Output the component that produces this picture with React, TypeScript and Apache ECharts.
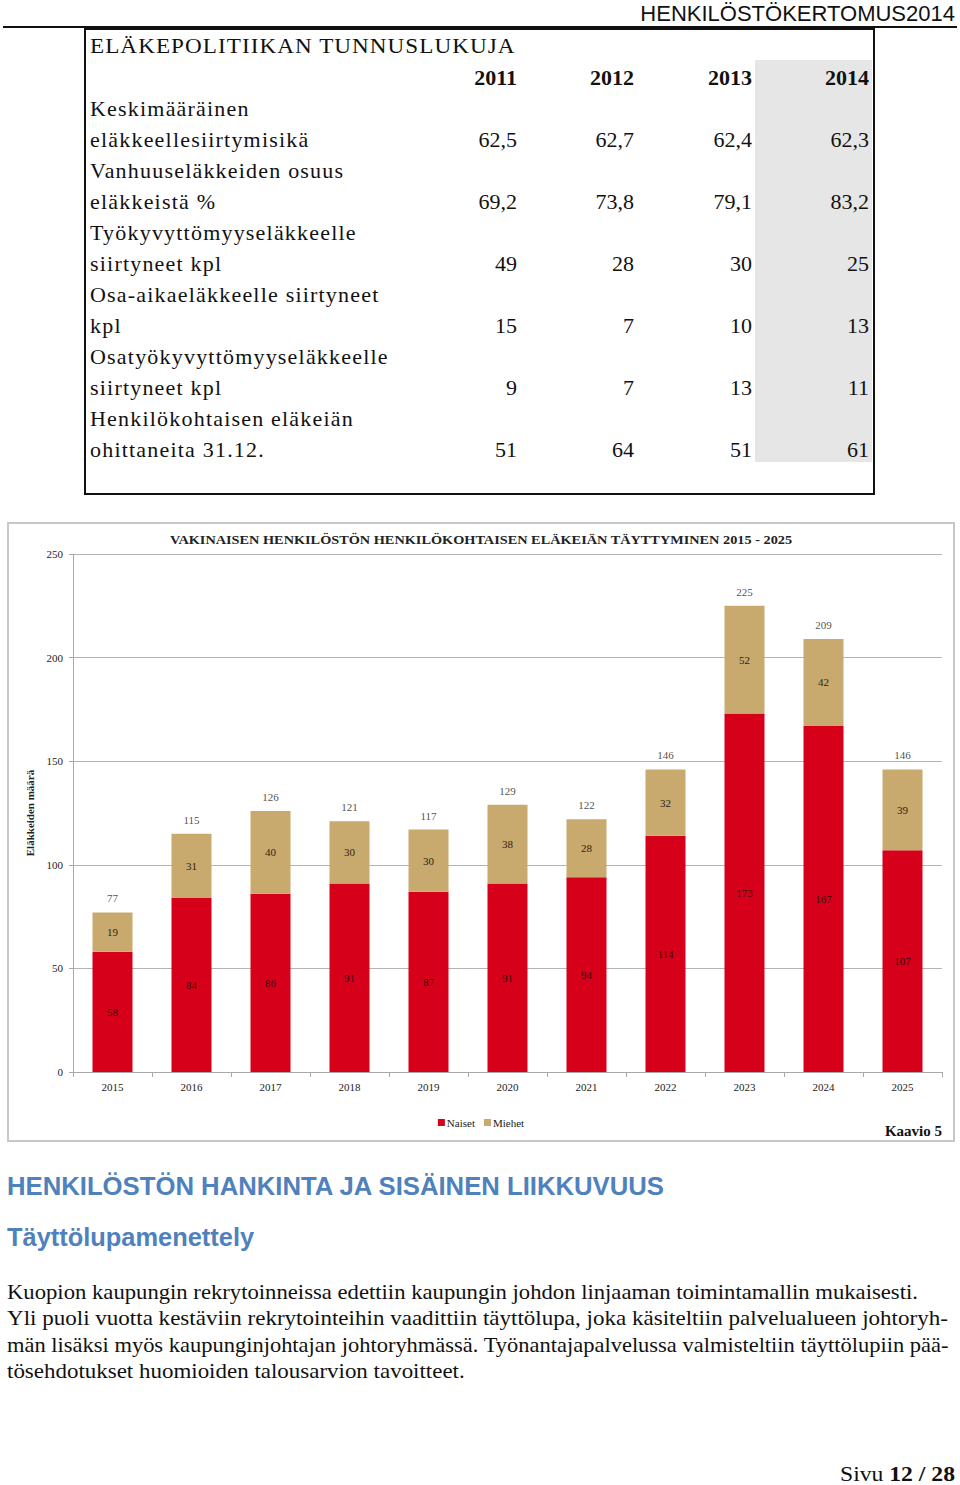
import React, { useEffect, useLayoutEffect, useRef, useState } from "react";
import * as echarts from "echarts";

// ---------- Chart data ----------
const categories = ["2015", "2016", "2017", "2018", "2019", "2020", "2021", "2022", "2023", "2024", "2025"];
const naiset = [58, 84, 86, 91, 87, 91, 94, 114, 173, 167, 107];
const miehet = [19, 31, 40, 30, 30, 38, 28, 32, 52, 42, 39];
const yTicks = [0, 50, 100, 150, 200, 250];

// ---------- Table data ----------
const tableYears = ["2011", "2012", "2013", "2014"];
const rowLabels = [
  ["Keskimääräinen", "eläkkeellesiirtymisikä"],
  ["Vanhuuseläkkeiden osuus", "eläkkeistä %"],
  ["Työkyvyttömyyseläkkeelle", "siirtyneet kpl"],
  ["Osa-aikaeläkkeelle siirtyneet", "kpl"],
  ["Osatyökyvyttömyyseläkkeelle", "siirtyneet kpl"],
  ["Henkilökohtaisen eläkeiän", "ohittaneita 31.12."],
];
const values2011 = ["62,5", "69,2", "49", "15", "9", "51"];
const values2012 = ["62,7", "73,8", "28", "7", "7", "64"];
const values2013 = ["62,4", "79,1", "30", "10", "13", "51"];
const values2014 = ["62,3", "83,2", "25", "13", "11", "61"];
const tableValues = [values2011, values2012, values2013, values2014];

// ---------- Text ----------
const headerText = "HENKILÖSTÖKERTOMUS2014";
const tableTitle = "ELÄKEPOLITIIKAN TUNNUSLUKUJA";
const chartTitle = "VAKINAISEN HENKILÖSTÖN HENKILÖKOHTAISEN ELÄKEIÄN TÄYTTYMINEN 2015 - 2025";
const heading1 = "HENKILÖSTÖN HANKINTA JA SISÄINEN LIIKKUVUUS";
const heading2 = "Täyttölupamenettely";
const paragraphLines = [
  "Kuopion kaupungin rekrytoinneissa edettiin kaupungin johdon linjaaman toimintamallin mukaisesti.",
  "Yli puoli vuotta kestäviin rekrytointeihin vaadittiin täyttölupa, joka käsiteltiin palvelualueen johtoryh-",
  "män lisäksi myös kaupunginjohtajan johtoryhmässä. Työnantajapalvelussa valmisteltiin täyttölupiin pää-",
  "tösehdotukset huomioiden talousarvion tavoitteet.",
];

const SERIF = "'Liberation Serif', 'DejaVu Serif', serif";
const SANS = "'Liberation Sans Narrow', 'Liberation Sans', Arial, sans-serif";
const RED = "#d7001b";
const TAN = "#c8aa6f";

function FitText(props: {
  x: number;
  y: number;
  width: number;
  anchor?: "left" | "right";
  style?: React.CSSProperties;
  children: React.ReactNode;
}) {
  const ref = useRef<HTMLSpanElement>(null);
  const [sx, setSx] = useState(1);
  useLayoutEffect(() => {
    const measure = () => {
      if (!ref.current) return;
      const natural = ref.current.scrollWidth;
      if (natural > 0) setSx(props.width / natural);
    };
    measure();
    if ((document as any).fonts && (document as any).fonts.ready) {
      (document as any).fonts.ready.then(measure);
    }
    // eslint-disable-next-line react-hooks/exhaustive-deps
  }, []);
  const anchor = props.anchor || "left";
  const pos: React.CSSProperties =
    anchor === "left" ? { left: props.x } : { right: 960 - props.x };
  return (
    <span
      ref={ref}
      style={{
        position: "absolute",
        top: props.y,
        whiteSpace: "nowrap",
        display: "inline-block",
        transformOrigin: anchor + " center",
        transform: `scaleX(${sx})`,
        ...pos,
        ...props.style,
      }}
    >
      {props.children}
    </span>
  );
}

function Chart() {
  const ref = useRef<HTMLDivElement>(null);
  useEffect(() => {
    if (!ref.current) return;
    const chart = echarts.init(ref.current, undefined, { renderer: "svg" });
    const totals = naiset.map((v, i) => v + miehet[i]);
    const labelFont = { fontFamily: SERIF, fontSize: 11, color: "#2b1a1a" };
    chart.setOption({
      animation: false,
      textStyle: { fontFamily: SERIF },
      grid: { left: 66, right: 13, top: 32, bottom: 70 },
      legend: {
        data: ["Naiset", "Miehet"],
        left: "center",
        top: 590,
        icon: "rect",
        itemWidth: 7,
        itemHeight: 7,
        itemGap: 9,
        textStyle: { fontFamily: SERIF, fontSize: 11, color: "#222", padding: [0, 0, 0, -3] },
      },
      xAxis: {
        type: "category",
        data: categories,
        axisLine: { lineStyle: { color: "#a8a8a8", width: 1 } },
        axisTick: { show: true, alignWithLabel: false, length: 5, lineStyle: { color: "#a8a8a8" } },
        axisLabel: { fontFamily: SERIF, fontSize: 11, color: "#222", margin: 9 },
      },
      yAxis: {
        type: "value",
        min: yTicks[0],
        max: yTicks[yTicks.length - 1],
        interval: yTicks[1] - yTicks[0],
        name: "Eläkkeiden määrä",
        nameLocation: "middle",
        nameGap: 35,
        nameTextStyle: { fontFamily: SERIF, fontSize: 11, fontWeight: "bold", color: "#222" },
        axisLine: { show: true, lineStyle: { color: "#a8a8a8", width: 1 } },
        axisTick: { show: true, length: 4, lineStyle: { color: "#a8a8a8" } },
        axisLabel: { fontFamily: SERIF, fontSize: 11, color: "#222", margin: 10 },
        splitLine: { show: true, lineStyle: { color: "#b4b4b4", width: 1 } },
      },
      series: [
        {
          name: "Naiset",
          type: "bar",
          stack: "total",
          barWidth: 40,
          data: naiset,
          itemStyle: { color: RED },
          label: { show: true, position: "inside", ...labelFont, color: "#3a0b0b" },
        },
        {
          name: "Miehet",
          type: "bar",
          stack: "total",
          barWidth: 40,
          data: miehet,
          itemStyle: { color: TAN },
          label: { show: true, position: "inside", ...labelFont, color: "#2a1f12" },
        },
        {
          name: "Yhteensä",
          type: "scatter",
          data: totals,
          symbolSize: 1,
          itemStyle: { color: "rgba(0,0,0,0)" },
          label: { show: true, position: "top", distance: 8, ...labelFont, color: "#222" },
          silent: true,
        },
      ],
      graphic: [
        {
          type: "text",
          x: 474,
          y: 18,
          scaleX: 1.1,
          style: {
            text: chartTitle,
            font: `bold 13px ${SERIF}`,
            fill: "#222",
            textAlign: "center",
            textVerticalAlign: "middle",
          },
        },
        {
          type: "text",
          right: 13,
          top: 601,
          style: { text: "Kaavio 5", font: `bold 15px ${SERIF}`, fill: "#111" },
        },
      ],
    });
    return () => chart.dispose();
  }, []);
  return (
    <>
      <div
        ref={ref}
        style={{ position: "absolute", left: 7, top: 522, width: 948, height: 620 }}
      />
      <div
        style={{
          position: "absolute",
          left: 7,
          top: 522,
          width: 948,
          height: 620,
          border: "2px solid #c8c8c8",
          boxSizing: "border-box",
          pointerEvents: "none",
        }}
      />
    </>
  );
}

function Table() {
  const colRight = [517, 634, 752, 869];
  const lineH = 31;
  const cell = (cy: number): React.CSSProperties => ({
    position: "absolute",
    top: cy - lineH / 2,
    height: lineH,
    lineHeight: lineH + "px",
    whiteSpace: "nowrap",
  });
  const labelStyle: React.CSSProperties = {
    fontFamily: SERIF,
    fontSize: 22,
    letterSpacing: 1.2,
    color: "#111",
  };
  const numStyle: React.CSSProperties = {
    fontFamily: SERIF,
    fontSize: 22,
    color: "#111",
  };
  const els: React.ReactNode[] = [];
  rowLabels.forEach((lines, r) => {
    const cy1 = 108 + r * 62;
    const cy2 = cy1 + 31;
    els.push(
      <div key={"a" + r} style={{ ...cell(cy1), left: 90, ...labelStyle }}>{lines[0]}</div>
    );
    els.push(
      <div key={"b" + r} style={{ ...cell(cy2), left: 90, ...labelStyle }}>{lines[1]}</div>
    );
    tableValues.forEach((col, c) => {
      els.push(
        <div key={"v" + r + "-" + c} style={{ ...cell(cy2), right: 960 - colRight[c], ...numStyle }}>
          {col[r]}
        </div>
      );
    });
  });
  return (
    <>
      <div style={{ position: "absolute", left: 755, top: 60, width: 117, height: 402, background: "#e6e6e6" }} />
      <div
        style={{
          position: "absolute",
          left: 84,
          top: 28,
          width: 791,
          height: 467,
          border: "2px solid #111",
          boxSizing: "border-box",
        }}
      />
      <FitText x={90} y={46 - 15} width={426} style={{ fontFamily: SERIF, fontSize: 22, lineHeight: "30px", letterSpacing: 1, color: "#111" }}>
        {tableTitle}
      </FitText>
      {tableYears.map((y, c) => (
        <div key={y} style={{ ...cell(77), right: 960 - colRight[c], ...numStyle, fontWeight: "bold" }}>{y}</div>
      ))}
      {els}
    </>
  );
}

export default function App() {
  return (
    <div
      style={{
        position: "absolute",
        left: 0,
        top: 0,
        width: 960,
        height: 1485,
        background: "#fff",
        overflow: "hidden",
      }}
    >
      <FitText x={955} y={1} width={315} anchor="right" style={{ fontFamily: SANS, fontSize: 22, lineHeight: "26px", color: "#111" }}>
        {headerText}
      </FitText>
      <div style={{ position: "absolute", left: 3, top: 26, width: 954, height: 2, background: "#111" }} />
      <Table />
      <Chart />
      <FitText x={7} y={1171} width={657} style={{ fontFamily: SANS, fontSize: 26, fontWeight: "bold", lineHeight: "30px", color: "#4f81bd" }}>
        {heading1}
      </FitText>
      <FitText x={7} y={1222} width={247} style={{ fontFamily: SANS, fontSize: 25, fontWeight: "bold", lineHeight: "30px", color: "#4f81bd" }}>
        {heading2}
      </FitText>
      {paragraphLines.map((line, i) => (
        <FitText
          key={i}
          x={7}
          y={1292 + i * 26.3 - 13}
          width={[911, 941, 941, 458][i]}
          style={{ fontFamily: SERIF, fontSize: 21, lineHeight: "26px", color: "#111" }}
        >
          {line}
        </FitText>
      ))}
      <FitText x={955} y={1461} width={115} anchor="right" style={{ fontFamily: SERIF, fontSize: 22, lineHeight: "26px", color: "#111" }}>
        <span>Sivu </span>
        <b>12 / 28</b>
      </FitText>
    </div>
  );
}
